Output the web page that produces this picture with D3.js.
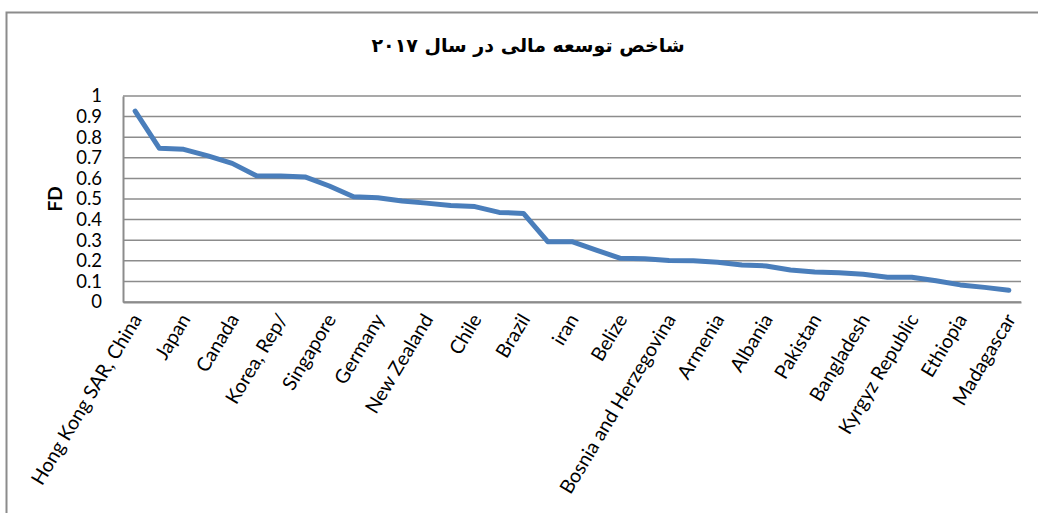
<!DOCTYPE html>
<html>
<head>
<meta charset="utf-8">
<script src="https://cdn.jsdelivr.net/npm/d3@7"></script>
<style>
  body { margin: 0; background: #fff; }
  svg { display: block; }
</style>
</head>
<body>
<svg></svg>
<script>
const width = 1038, height = 513

// FD values, countries sorted high to low (37 points, every other one labelled)
const fdValues = [0.927, 0.746, 0.741, 0.709, 0.673, 0.613, 0.612, 0.607, 0.563, 0.511,
    0.506, 0.490, 0.480, 0.468, 0.463, 0.435, 0.430, 0.293, 0.293, 0.252,
    0.212, 0.210, 0.202, 0.200, 0.193, 0.180, 0.175, 0.155, 0.146, 0.142,
    0.135, 0.120, 0.120, 0.103, 0.083, 0.071, 0.057]

// labels shown on the axis (indices 0, 2, 4, ...)
const tickLabels = ["Hong Kong SAR, China", "Japan", "Canada", "Korea, Rep/", "Singapore",
    "Germany", "New Zealand", "Chile", "Brazil", "iran", "Belize",
    "Bosnia and Herzegovina", "Armenia", "Albania", "Pakistan", "Bangladesh",
    "Kyrgyz Republic", "Ethiopia", "Madagascar"]

const yTicks = [0, 0.1, 0.2, 0.3, 0.4, 0.5, 0.6, 0.7, 0.8, 0.9, 1]
const title = "شاخص توسعه مالی در سال ۲۰۱۷"

const margin = {left: 123, right: 17, top: 96, bottom: 211}

var svg = d3.select("svg")
    .attr("width", width)
    .attr("height", height);

// outer chart frame (right and bottom edges are cut off)
svg.append("rect")
    .attr("x", 6.5).attr("y", 12.5)
    .attr("width", 1100).attr("height", 600)
    .attr("fill", "none")
    .attr("stroke", "#8c8c8c")
    .attr("stroke-width", 2);

const x = d3.scaleBand()
    .domain(d3.range(fdValues.length))
    .range([margin.left, width - margin.right]);

const y = d3.scaleLinear()
    .domain([0, 1])
    .range([height - margin.bottom, margin.top]);

// gridlines
svg.append("g")
    .selectAll("line")
    .data(yTicks)
    .enter()
    .append("line")
    .attr("x1", margin.left)
    .attr("x2", width - margin.right)
    .attr("y1", d => y(d))
    .attr("y2", d => y(d))
    .attr("stroke", "#8c8c8c")
    .attr("stroke-width", 1.5);

// y axis
const yAxis = svg.append("g")
    .attr("transform", `translate(${margin.left},0)`)
    .call(d3.axisLeft(y).tickValues(yTicks).tickSize(0).tickPadding(21)
        .tickFormat(d3.format("")));
yAxis.select(".domain").attr("stroke", "#8c8c8c").attr("stroke-width", 2);
yAxis.selectAll("text")
    .attr("font-family", "Lato, 'Open Sans', sans-serif")
    .attr("font-size", 18.5)
    .attr("fill", "#000");

// x axis, labels only on every other category
const xAxis = svg.append("g")
    .attr("transform", `translate(0,${y(0)})`)
    .call(d3.axisBottom(x).tickSize(0)
        .tickValues(d3.range(0, fdValues.length, 2))
        .tickFormat(i => tickLabels[i / 2]));
xAxis.select(".domain").attr("stroke", "#8c8c8c").attr("stroke-width", 2);
xAxis.selectAll("text")
    .attr("font-family", "Lato, 'Open Sans', sans-serif")
    .attr("font-size", 19.5)
    .attr("fill", "#000")
    .attr("text-anchor", "end")
    .attr("dy", "0.35em")
    .attr("transform", "translate(-1,12) rotate(-59)");

// line
const line = d3.line()
    .x((d, i) => x(i) + x.bandwidth() / 2)
    .y(d => y(d));

svg.append("path")
    .datum(fdValues)
    .attr("d", line)
    .attr("fill", "none")
    .attr("stroke", "#4a7ebb")
    .attr("stroke-width", 5)
    .attr("stroke-linejoin", "round")
    .attr("stroke-linecap", "round");

// y axis title
svg.append("text")
    .attr("transform", `translate(62,${y(0.5)}) rotate(-90)`)
    .attr("text-anchor", "middle")
    .attr("font-family", "Lato, 'Open Sans', sans-serif")
    .attr("font-weight", "bold")
    .attr("font-size", 19)
    .text("FD");

// chart title
svg.append("text")
    .attr("x", 528)
    .attr("y", 52)
    .attr("text-anchor", "middle")
    .attr("direction", "rtl")
    .attr("font-family", "'DejaVu Sans', sans-serif")
    .attr("font-weight", "bold")
    .attr("font-size", 19)
    .text(title);
</script>
</body>
</html>
